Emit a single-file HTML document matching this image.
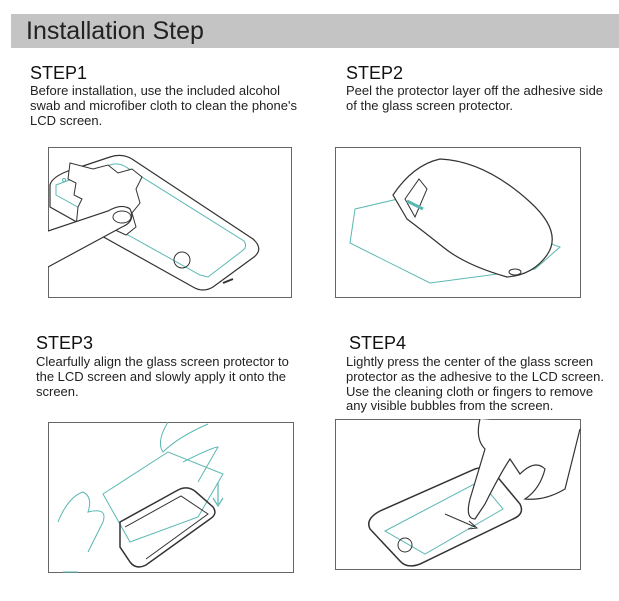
<!DOCTYPE html>
<html><head><meta charset="utf-8"><style>
body{margin:0;width:619px;height:601px;background:#fff;position:relative;overflow:hidden;font-family:"Liberation Sans",Arial,sans-serif;color:#111}
.hdr{position:absolute;left:11px;top:14px;width:608px;height:34px;background:#c4c4c4}
.ttl{position:absolute;left:26px;top:16px;font-size:25px;line-height:30px;color:#222}
.st{position:absolute;font-size:18px;line-height:18px;color:#111}
.tx{position:absolute;font-size:13px;line-height:14.8px;color:#222;white-space:nowrap}
svg{position:absolute}
</style></head><body>
<div class="hdr"></div>
<div class="ttl">Installation Step</div>

<div class="st" style="left:30px;top:64px">STEP1</div>
<div class="tx" style="left:30px;top:84px">Before installation, use the included alcohol<br>swab and microfiber cloth to clean the phone's<br>LCD screen.</div>
<div class="st" style="left:346px;top:64px">STEP2</div>
<div class="tx" style="left:346px;top:84px">Peel the protector layer off the adhesive side<br>of the glass screen protector.</div>

<div class="st" style="left:36px;top:334px">STEP3</div>
<div class="tx" style="left:36px;top:355px">Clearfully align the glass screen protector to<br>the LCD screen and slowly apply it onto the<br>screen.</div>
<div class="st" style="left:349px;top:334px">STEP4</div>
<div class="tx" style="left:346px;top:355px">Lightly press the center of the glass screen<br>protector as the adhesive to the LCD screen.<br>Use the cleaning cloth or fingers to remove<br>any visible bubbles from the screen.</div>

<!-- Box1 -->
<svg style="left:48px;top:147px" width="244" height="151" viewBox="0 0 244 151">
<rect x="0.5" y="0.5" width="243" height="150" fill="#fff" stroke="#666"/>
<path d="M2 38 Q4 30 20 24 L62 10 Q74 6 84 12 L205 92 Q216 102 206 110 L165 140 Q155 146 145 140 L2 60 Z" fill="none" stroke="#333" stroke-width="1.2"/>
<path d="M8 38 L62 18 Q70 15 78 20 L196 94 Q200 100 194 104 L160 130 L152 128 L8 48 Z" fill="none" stroke="#5bb8b2" stroke-width="1"/>
<circle cx="16" cy="33" r="1.5" fill="none" stroke="#5bb8b2"/>
<ellipse cx="30" cy="27" rx="8" ry="2.5" fill="none" stroke="#5bb8b2" transform="rotate(-18 30 27)"/>
<circle cx="134" cy="113" r="8" fill="none" stroke="#333"/>
<path d="M175 136 L185 132" stroke="#333" stroke-width="2"/>
<path d="M22 16 L20 32 L28 36 L26 48 L34 52 L30 60 L28 80 L36 90 L45 84 L55 90 L65 82 L78 88 L88 80 L84 66 L92 56 L88 42 L94 30 L84 22 L70 26 L60 18 L45 22 Z" fill="#fff" stroke="#333"/>
<path d="M0 84 L60 64 Q74 56 82 62 Q88 74 74 80 L0 120" fill="#fff" stroke="#333" stroke-width="1.2"/>
<ellipse cx="74" cy="70" rx="9" ry="6" fill="none" stroke="#333"/>
</svg>

<!-- Box2 -->
<svg style="left:335px;top:147px" width="246" height="151" viewBox="0 0 246 151">
<rect x="0.5" y="0.5" width="245" height="150" fill="#fff" stroke="#666"/>
<path d="M20 62 L80 48 L225 100 L200 122 L95 136 L15 96 Z" fill="none" stroke="#5bb8b2"/>
<path d="M58 48 Q78 18 105 12 Q150 14 195 55 Q228 85 212 108 Q198 128 172 130 Q130 118 108 100 Q88 84 72 72 Z" fill="#fff" stroke="#333" stroke-width="1.2"/>
<path d="M70 52 L84 32 L92 42 L80 70 Z" fill="none" stroke="#333"/>
<path d="M72 54 L88 62" stroke="#5bb8b2" stroke-width="3"/>
<ellipse cx="180" cy="125" rx="6" ry="3" fill="none" stroke="#333"/>
</svg>

<!-- Box3 -->
<svg style="left:48px;top:422px" width="246" height="151" viewBox="0 0 246 151">
<rect x="0.5" y="0.5" width="245" height="150" fill="#fff" stroke="#666"/>
<path d="M55 72 L120 30 L175 52 L150 95 L82 120 Z" fill="none" stroke="#5bb8b2"/>
<path d="M120 0 Q108 20 115 30 Q130 15 160 2 M135 40 Q165 25 170 25 L150 60" fill="none" stroke="#5bb8b2"/>
<path d="M10 100 Q20 75 35 70 Q45 75 40 90 Q60 85 55 100 L40 130 M30 150 L15 150" fill="none" stroke="#5bb8b2"/>
<path d="M72 100 L130 68 Q140 63 148 70 L165 85 Q170 92 162 97 L98 143 Q88 148 82 140 L72 125 Z" fill="none" stroke="#333" stroke-width="1.5"/>
<path d="M77 105 L133 74 L160 92 L98 137" fill="none" stroke="#333"/>
<path d="M170 60 L170 82 M165 76 L170 84 L175 76" stroke="#5bb8b2" fill="none" stroke-width="1.2"/>
</svg>

<!-- Box4 -->
<svg style="left:335px;top:419px" width="246" height="151" viewBox="0 0 246 151">
<rect x="0.5" y="0.5" width="245" height="150" fill="#fff" stroke="#666"/>
<path d="M35 110 Q30 100 45 92 L140 50 Q155 45 160 55 L185 85 Q190 95 178 100 L85 145 Q72 150 65 142 Z" fill="none" stroke="#333" stroke-width="1.5"/>
<path d="M50 112 L145 62 L168 90 L90 135 Z" fill="none" stroke="#5bb8b2"/>
<circle cx="70" cy="126" r="7" fill="none" stroke="#333"/>
<path d="M145 0 Q140 20 150 30 L135 80 Q130 100 140 100 L150 85 Q165 55 175 40 L185 55 Q200 40 210 50 Q205 70 190 80 Q210 82 230 70 L245 10" fill="#fff" stroke="#333" stroke-width="1.2"/>
<path d="M110 95 L140 108 M134 102 L142 109 L133 110" stroke="#333" fill="none"/>
</svg>
</body></html>
